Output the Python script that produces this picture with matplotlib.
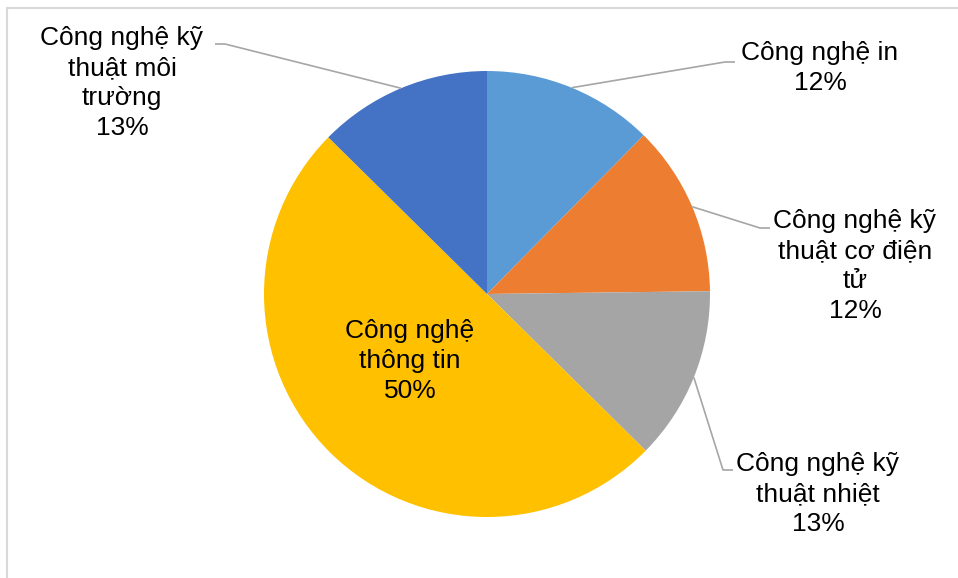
import matplotlib
matplotlib.use("Agg")
import matplotlib.pyplot as plt
import numpy as np

plt.rcParams['font.family'] = ['Liberation Sans', 'DejaVu Sans']

categories = ["Công nghệ in", "Công nghệ kỹ\nthuật cơ điện\ntử",
              "Công nghệ kỹ\nthuật nhiệt", "Công nghệ\nthông tin",
              "Công nghệ kỹ\nthuật môi\ntrường"]
shares = [12.4, 12.4, 12.6, 50.0, 12.6]
colors = ["#5B9BD5", "#ED7D31", "#A5A5A5", "#FFC000", "#4472C4"]

W, H = 958, 578
fig = plt.figure(figsize=(W / 100, H / 100), dpi=100)
ax = fig.add_axes([0, 0, 1, 1])

cx, cy, r = 487, H - 294, 223
wedges, _ = ax.pie(shares, colors=colors, startangle=90, counterclock=False,
                   center=(cx, cy), radius=r, frame=True,
                   wedgeprops=dict(linewidth=0))
ax.set_xlim(0, W)
ax.set_ylim(0, H)
ax.axis('off')

# label positions (image pixel coords of text center), connector elbow
label_pos = [(820, 68), (855, 266), (818, 494), (410, 361), (122, 83)]
elbows = [(735, 62), (770, 228), (733, 470), None, (215, 44)]
elbow_dir = [1, 1, 1, 0, -1]

total = sum(shares)
fs = 19
for w, lab, v, (tx, ty), el, d in zip(wedges, categories, shares,
                                       label_pos, elbows, elbow_dir):
    mid = np.deg2rad((w.theta1 + w.theta2) / 2)
    ex, ey = cx + r * np.cos(mid), cy + r * np.sin(mid)
    if el is not None:
        bx, by = el[0], H - el[1]
        ax.plot([ex, bx - 10 * d, bx], [ey, by, by], color="#A6A6A6",
                lw=1.2, solid_capstyle='butt', zorder=1)
    pct = round(100 * v / total)
    ax.text(tx, H - ty, f"{lab}\n{pct}%", ha='center', va='center',
            fontsize=fs, linespacing=1.3, color='black')

# chart area border (top and left visible)
ax.plot([7.5, 7.5], [0, H - 7.5], color="#D9D9D9", lw=1.5)
ax.plot([7.5, W], [H - 7.5, H - 7.5], color="#D9D9D9", lw=1.5)

fig.savefig("out.png", dpi=100)
